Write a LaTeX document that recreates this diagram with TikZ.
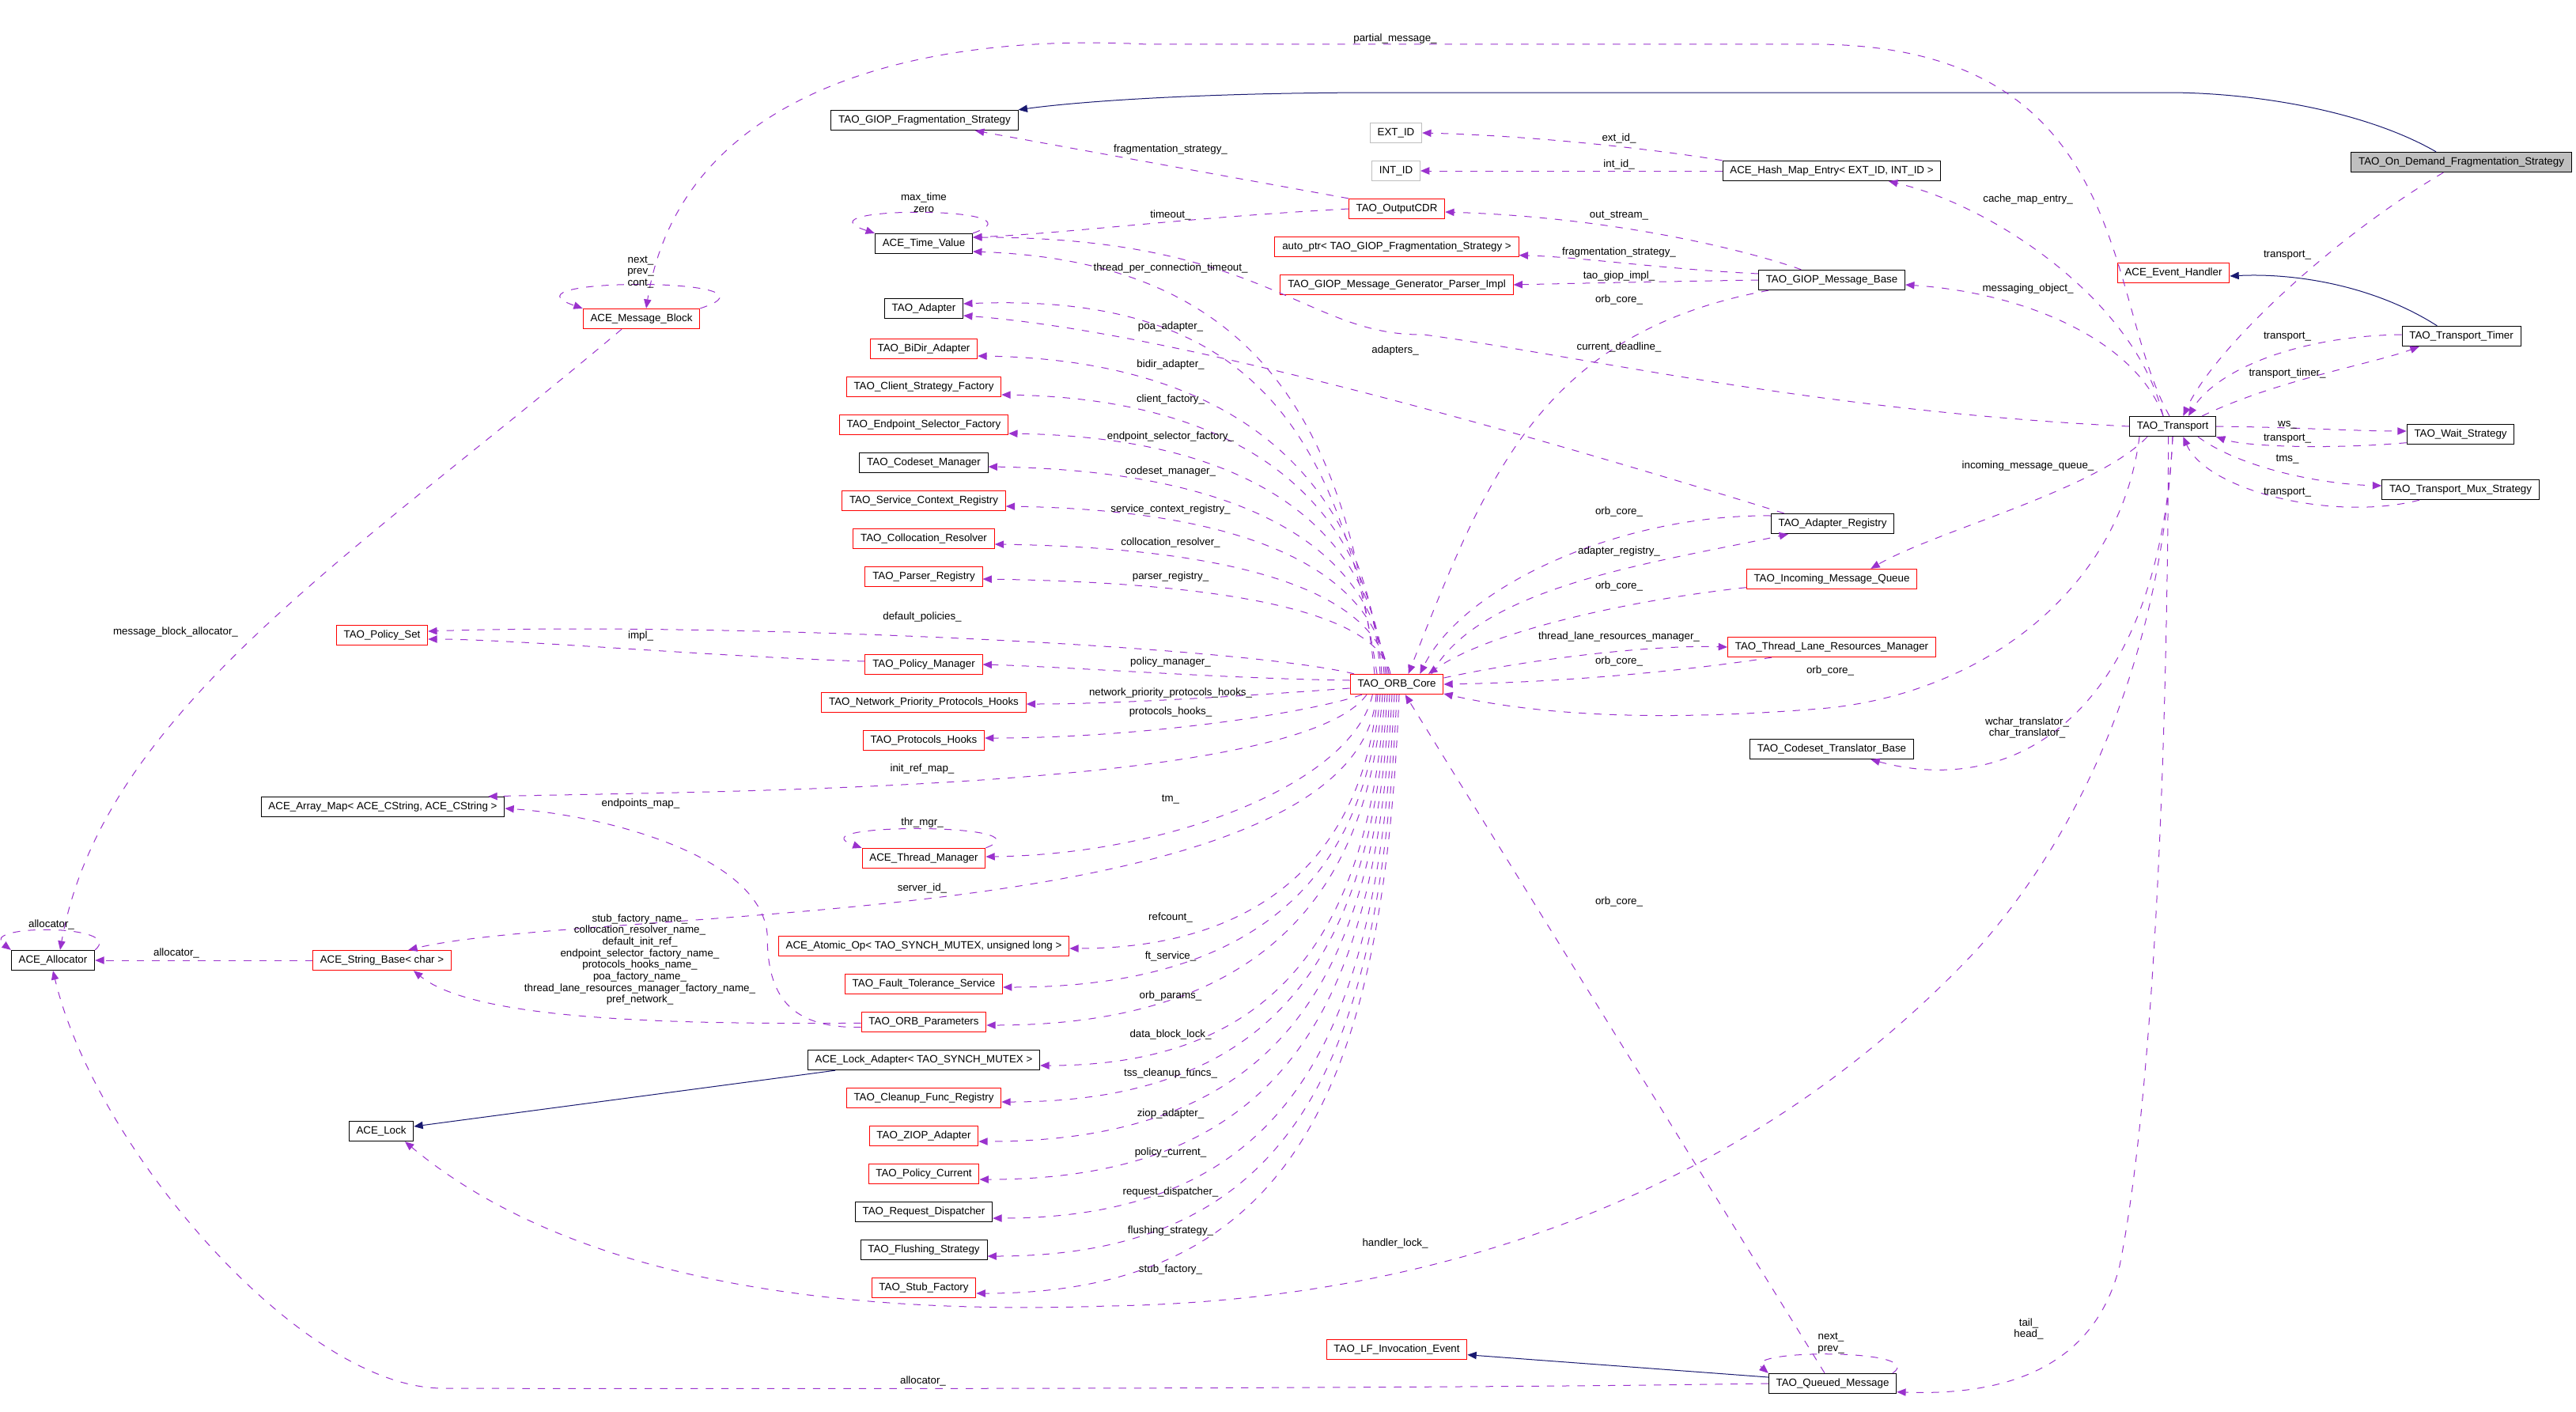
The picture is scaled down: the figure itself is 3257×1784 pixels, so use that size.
\documentclass[tikz,border=0pt]{standalone}
\usepackage{fontspec}
\setmainfont{Liberation Sans}
\usepackage{tikz}
\definecolor{dxpurple}{RGB}{154,50,205}
\definecolor{dxnavy}{RGB}{25,25,112}
\definecolor{dxgray}{RGB}{191,191,191}
\usetikzlibrary{arrows.meta}

\begin{document}
\begin{tikzpicture}[x=0.75pt, y=-0.75pt,
			cls/.style={draw=black, fill=white, line width=0.75pt, inner xsep=7pt, inner ysep=0pt,
				minimum height=19pt, text height=7.5pt, text depth=2.2pt},
			redcls/.style={cls, draw=red},
			ghost/.style={cls, draw=dxgray},
			root/.style={cls, fill=dxgray},
			lbl/.style={inner sep=0pt, align=center, font=\fontsize{10pt}{11pt}\selectfont},
			use/.style={->, dxpurple, line width=0.75pt, dash pattern=on 7pt off 7.5pt},
			isa/.style={->, dxnavy, line width=0.75pt},
			>={Triangle[length=8.5pt,width=7pt]}, %Pfeilspitzen
			font=\fontsize{10pt}{12pt}\selectfont]
			\useasboundingbox (0,0) rectangle (3257,1784);
			% Klassen
			\node[root] (ondemand) at (3112,205) {TAO\_On\_Demand\_Fragmentation\_Strategy};
			\node[cls] (giopfrag) at (1169,152) {TAO\_GIOP\_Fragmentation\_Strategy};
			\node[ghost] (extid) at (1765,168) {EXT\_ID};
			\node[ghost] (intid) at (1765,216) {INT\_ID};
			\node[cls] (hashmap) at (2316,216) {ACE\_Hash\_Map\_Entry< EXT\_ID, INT\_ID >};
			\node[redcls] (outcdr) at (1766,264) {TAO\_OutputCDR};
			\node[redcls] (autoptr) at (1766,312) {auto\_ptr< TAO\_GIOP\_Fragmentation\_Strategy >};
			\node[redcls] (genparser) at (1766,360) {TAO\_GIOP\_Message\_Generator\_Parser\_Impl};
			\node[cls] (msgbase) at (2316,354) {TAO\_GIOP\_Message\_Base};
			\node[redcls] (evhandler) at (2748,345) {ACE\_Event\_Handler};
			\node[cls] (timer) at (3112,425) {TAO\_Transport\_Timer};
			\node[cls] (transport) at (2747,539) {TAO\_Transport};
			\node[cls] (waitstrat) at (3111,549) {TAO\_Wait\_Strategy};
			\node[cls] (muxstrat) at (3111,619) {TAO\_Transport\_Mux\_Strategy};
			\node[redcls] (msgblock) at (811,403) {ACE\_Message\_Block};
			\node[redcls] (policyset) at (483,803) {TAO\_Policy\_Set};
			\node[cls] (arraymap) at (484,1020) {ACE\_Array\_Map< ACE\_CString, ACE\_CString >};
			\node[cls] (allocator) at (67,1214) {ACE\_Allocator};
			\node[redcls] (stringbase) at (483,1214) {ACE\_String\_Base< char >};
			\node[cls] (acelock) at (482,1430) {ACE\_Lock};
			\node[redcls] (orbcore) at (1766,865) {TAO\_ORB\_Core};
			\node[cls] (adapterreg) at (2317,662) {TAO\_Adapter\_Registry};
			\node[redcls] (incoming) at (2316,732) {TAO\_Incoming\_Message\_Queue};
			\node[redcls] (threadlane) at (2316,818) {TAO\_Thread\_Lane\_Resources\_Manager};
			\node[cls] (translator) at (2316,947) {TAO\_Codeset\_Translator\_Base};
			\node[redcls] (lfevent) at (1766,1706) {TAO\_LF\_Invocation\_Event};
			\node[cls] (queued) at (2317,1749) {TAO\_Queued\_Message};
			% Spalte links vom ORB_Core
			\foreach \n/\y/\c/\t in {timeval/308/black/ACE\_Time\_Value, adapter/390/black/TAO\_Adapter,
				bidir/441/red/TAO\_BiDir\_Adapter, clientfac/489/red/TAO\_Client\_Strategy\_Factory,
				endpointfac/537/red/TAO\_Endpoint\_Selector\_Factory, codesetmgr/585/black/TAO\_Codeset\_Manager,
				svcctx/633/red/TAO\_Service\_Context\_Registry, colloc/681/red/TAO\_Collocation\_Resolver,
				parserreg/729/red/TAO\_Parser\_Registry, policymgr/840/red/TAO\_Policy\_Manager,
				netprio/888/red/TAO\_Network\_Priority\_Protocols\_Hooks, protohooks/936/red/TAO\_Protocols\_Hooks,
				threadmgr/1085/red/ACE\_Thread\_Manager, atomicop/1196/red/{ACE\_Atomic\_Op< TAO\_SYNCH\_MUTEX, unsigned long >},
				ftservice/1244/red/TAO\_Fault\_Tolerance\_Service, orbparams/1292/red/TAO\_ORB\_Parameters,
				lockadapter/1340/black/ACE\_Lock\_Adapter< TAO\_SYNCH\_MUTEX >, cleanup/1388/red/TAO\_Cleanup\_Func\_Registry,
				ziop/1436/red/TAO\_ZIOP\_Adapter, policycur/1484/red/TAO\_Policy\_Current,
				reqdisp/1532/black/TAO\_Request\_Dispatcher, flushing/1580/black/TAO\_Flushing\_Strategy,
				stubfac/1628/red/TAO\_Stub\_Factory}
				\node[cls, draw=\c] (\n) at (1168,\y) {\t};
			% Vererbung
			\draw[isa] ([xshift=-24pt]ondemand.north) .. controls (2990,140) and (2850,117) .. (2740,117) -- (1750,117) .. controls (1500,117) and (1350,130) .. (giopfrag.north east);
			\draw[isa] ([xshift=-23pt]timer.north) .. controls (3000,360) and (2900,345) .. ([yshift=-3pt]evhandler.east);
			\draw[isa] ([xshift=-84pt]lockadapter.south) -- ([yshift=4.5pt]acelock.east);
			\draw[isa] ([yshift=6pt]queued.west) -- ([yshift=-5pt]lfevent.east);
			% Message block, allocator
			\draw[use] ([xshift=-3pt]transport.north) .. controls (2660,380) and (2700,60) .. (2300,56) -- (1450,56) .. controls (1150,40) and (860,120) .. ([xshift=4.5pt]msgblock.north);
			\draw[use] (msgblock.north east) .. controls (1010,350) and (620,350) .. (msgblock.north west);
			\draw[use] ([xshift=-18.75pt]msgblock.south) .. controls (450,700) and (130,900) .. ([xshift=6.75pt]allocator.north);
			\draw[use] (allocator.north east) .. controls (160,1168) and (-30,1168) .. (allocator.north west);
			\draw[use] (stringbase.west) -- (allocator.east);
			\draw[use] (queued.west) .. controls (1800,1756) and (900,1756) .. (560,1755) .. controls (380,1755) and (120,1450) .. (allocator.south);
			% Time value
			\draw[use] (timeval.north east) .. controls (1330,260) and (1000,260) .. (timeval.north west);
			\draw[use] (outcdr.west) .. controls (1500,275) and (1350,295) .. ([yshift=6pt]timeval.east);
			\draw[use] (transport.west) .. controls (2300,520) and (2000,450) .. (1800,423) .. controls (1650,425) and (1600,300) .. ([yshift=6pt]timeval.east);
			\draw[use] ([xshift=-21pt]orbcore.north) .. controls (1700,500) and (1560,330) .. ([yshift=-7.5pt]timeval.east);
			% GIOP
			\draw[use] (outcdr.north west) -- ([xshift=48pt]giopfrag.south);
			\draw[use] (hashmap.north west) .. controls (2100,190) and (1950,172) .. (extid.east);
			\draw[use] (hashmap.west) -- (intid.east);
			\draw[use] ([xshift=-9pt]transport.north) .. controls (2700,380) and (2520,260) .. ([xshift=54pt]hashmap.south);
			\draw[use] ([xshift=-29pt]msgbase.north) .. controls (2220,320) and (2050,275) .. ([yshift=-3pt]outcdr.east);
			\draw[use] ([yshift=6pt]msgbase.west) .. controls (2100,340) and (2000,325) .. ([yshift=-8pt]autoptr.east);
			\draw[use] (msgbase.west) .. controls (2100,356) and (2000,358) .. (genparser.east);
			\draw[use] ([xshift=-60pt]msgbase.south) .. controls (1950,420) and (1880,600) .. ([xshift=11pt]orbcore.north);
			\draw[use] ([xshift=-9pt]transport.north) .. controls (2700,430) and (2560,370) .. ([yshift=-4.5pt]msgbase.east);
			% Adapter, Registry, ORB_Core rechts
			\draw[use] ([xshift=-46pt]adapterreg.north) .. controls (2000,570) and (1500,420) .. ([yshift=-6.75pt]adapter.east);
			\draw[use] ([yshift=7.5pt]adapterreg.west) .. controls (2050,650) and (1850,740) .. ([xshift=22pt]orbcore.north);
			\draw[use] ([xshift=33pt]orbcore.north) .. controls (1870,740) and (2100,710) .. ([xshift=-42pt]adapterreg.south);
			\draw[use] ([yshift=-8pt]incoming.west) .. controls (2050,760) and (1880,800) .. ([xshift=30pt]orbcore.north);
			\draw[use] ([yshift=6pt]orbcore.east) .. controls (1950,830) and (2100,815) .. (threadlane.west);
			\draw[use] ([xshift=-57pt]threadlane.south) .. controls (2150,845) and (2000,862) .. (orbcore.east);
			\draw[use] ([xshift=-31.5pt]transport.south) .. controls (2680,750) and (2500,880) .. (2300,896) .. controls (2100,912) and (1950,905) .. ([yshift=-9pt]orbcore.east);
			\draw[use] ([xshift=-7.5pt]queued.north) -- ([xshift=8pt]orbcore.south);
			% Transport
			\draw[use] ([xshift=-17pt]ondemand.south) .. controls (2950,300) and (2800,440) .. ([xshift=10pt]transport.north);
			\draw[use] ([yshift=1.5pt]timer.west) .. controls (2900,425) and (2800,470) .. ([xshift=15pt]transport.north);
			\draw[use] ([xshift=28pt]transport.north) .. controls (2880,480) and (3000,460) .. ([xshift=-40pt]timer.south);
			\draw[use] (transport.east) .. controls (2900,540) and (2980,545) .. ([yshift=3pt]waitstrat.west);
			\draw[use] ([yshift=-8pt]waitstrat.west) .. controls (2950,568) and (2840,565) .. (transport.south east);
			\draw[use] ([xshift=24pt]transport.south) .. controls (2830,590) and (2930,612) .. ([yshift=3.75pt]muxstrat.west);
			\draw[use] ([xshift=-39pt]muxstrat.south) .. controls (2950,660) and (2790,620) .. ([xshift=10pt]transport.south);
			\draw[use] ([xshift=-24pt]transport.south) .. controls (2650,620) and (2450,670) .. ([xshift=37pt]incoming.north);
			\draw[use] (transport.south) .. controls (2730,900) and (2550,1010) .. ([xshift=37pt]translator.south);
			\draw[use] ([xshift=-4pt]transport.south) .. controls (2740,1000) and (2720,1400) .. (2680,1600) .. controls (2650,1720) and (2550,1765) .. ([yshift=-8pt]queued.east);
			\draw[use] ([xshift=-4pt]queued.north east) .. controls (2440,1705) and (2200,1705) .. (queued.north west);
			\draw[use] (transport.south) .. controls (2735,800) and (2650,1030) .. (2500,1200) .. controls (2200,1520) and (1800,1645) .. (1400,1651) .. controls (1000,1665) and (700,1600) .. ([xshift=22.5pt]acelock.south);
			% ORB_Core nach oben links
			\draw[use] ([xshift=-18.75pt]orbcore.north) .. controls (1690,520) and (1560,370) .. ([yshift=4.5pt]adapter.east);
			\draw[use] ([xshift=-15.75pt]orbcore.north) .. controls (1729,611) and (1569,455) .. ([yshift=-6.75pt]bidir.east);
			\draw[use] ([xshift=-14.25pt]orbcore.north) .. controls (1732,641) and (1581,504) .. ([yshift=-7.5pt]clientfac.east);
			\draw[use] ([xshift=-12pt]orbcore.north) .. controls (1735,670) and (1586,553) .. ([yshift=-8.25pt]endpointfac.east);
			\draw[use] ([xshift=-10.5pt]orbcore.north) .. controls (1737,695) and (1578,595) .. ([yshift=-3.75pt]codesetmgr.east);
			\draw[use] ([xshift=-9pt]orbcore.north) .. controls (1739,725) and (1587,645) .. ([yshift=-5.25pt]svcctx.east);
			\draw[use] ([xshift=-7.5pt]orbcore.north) .. controls (1741,754) and (1584,693) .. ([yshift=-5.25pt]colloc.east);
			\draw[use] ([xshift=-6pt]orbcore.north) .. controls (1743,780) and (1580,737) .. ([yshift=-2.25pt]parserreg.east);
			\draw[use] ([xshift=-40.5pt]orbcore.north) .. controls (1560,815) and (900,786) .. ([yshift=3.75pt]policyset.east);
			\draw[use] ([yshift=3pt]policymgr.west) .. controls (900,830) and (650,808) .. ([yshift=-3.75pt]policyset.east);
			\draw[use] ([yshift=3.75pt]orbcore.west) .. controls (1550,858) and (1350,843) .. (policymgr.east);
			\draw[use] ([yshift=-3.75pt]orbcore.west) .. controls (1600,878) and (1420,890) .. ([yshift=-1.5pt]netprio.east);
			% ORB_Core nach unten links
			\draw[use] ([xshift=-33pt]orbcore.south) .. controls (1660,900) and (1450,933) .. ([yshift=2.25pt]protohooks.east);
			\draw[use] ([xshift=-28.5pt]orbcore.south) .. controls (1640,1000) and (900,1000) .. ([xshift=100pt]arraymap.north);
			\draw[use] ([xshift=-23pt]orbcore.south) .. controls (1710,990) and (1480,1080) .. ([yshift=1.5pt]threadmgr.east);
			\draw[use] (threadmgr.north east) .. controls (1330,1040) and (1000,1040) .. (threadmgr.north west);
			\draw[use] ([xshift=-19.5pt]orbcore.south) .. controls (1720,1180) and (750,1145) .. ([xshift=25pt]stringbase.north);
			\draw[use] ([xshift=-18pt]orbcore.south) .. controls (1722,1086) and (1589,1199) .. ([yshift=-2.25pt]atomicop.east);
			\draw[use] ([xshift=-15.75pt]orbcore.south) .. controls (1725,1118) and (1579,1248) .. ([yshift=-3pt]ftservice.east);
			\draw[use] ([xshift=-13.5pt]orbcore.south) .. controls (1728,1149) and (1575,1296) .. ([yshift=-3pt]orbparams.east);
			\draw[use] ([xshift=-11.25pt]orbcore.south) .. controls (1731,1182) and (1612,1347) .. ([yshift=-5.25pt]lockadapter.east);
			\draw[use] ([xshift=-9pt]orbcore.south) .. controls (1734,1212) and (1609,1393) .. ([yshift=-3.75pt]cleanup.east);
			\draw[use] ([xshift=-6.75pt]orbcore.south) .. controls (1737,1245) and (1613,1443) .. ([yshift=-5.25pt]ziop.east);
			\draw[use] ([xshift=-4.5pt]orbcore.south) .. controls (1740,1276) and (1620,1491) .. ([yshift=-5.25pt]policycur.east);
			\draw[use] ([xshift=-2.25pt]orbcore.south) .. controls (1743,1308) and (1632,1540) .. ([yshift=-6pt]reqdisp.east);
			\draw[use] (orbcore.south) .. controls (1746,1339) and (1638,1588) .. ([yshift=-6pt]flushing.east);
			\draw[use] ([xshift=2.25pt]orbcore.south) .. controls (1749,1370) and (1637,1635) .. ([yshift=-5.25pt]stubfac.east);
			% ORB_Parameters
			\draw[use] ([yshift=-5pt]orbparams.west) .. controls (990,1300) and (970,1250) .. (970,1180) .. controls (960,1080) and (760,1030) .. ([yshift=-1.5pt]arraymap.east);
			\draw[use] ([yshift=-1pt]orbparams.west) .. controls (850,1295) and (600,1290) .. ([xshift=30pt]stringbase.south);
			% Beschriftung
			\foreach \n/\x/\y/\t in {1/1764/49/partial\_message\_, 2/1480/189/fragmentation\_strategy\_,
				3/2047/175/ext\_id\_, 4/2047/208/int\_id\_, 5/1168/256/{max\_time\\zero}, 6/1480/272/timeout\_,
				7/2047/273/out\_stream\_, 8/2047/319/fragmentation\_strategy\_, 9/1480/339/thread\_per\_connection\_timeout\_,
				10/2047/349/tao\_giop\_impl\_, 11/2047/379/orb\_core\_, 12/1480/413/poa\_adapter\_, 13/1764/443/adapters\_,
				14/2047/439/current\_deadline\_, 15/1480/461/bidir\_adapter\_, 16/1480/505/client\_factory\_,
				17/1480/552/endpoint\_selector\_factory\_, 18/1480/596/codeset\_manager\_, 19/1480/644/service\_context\_registry\_,
				20/1480/686/collocation\_resolver\_, 21/1480/729/parser\_registry\_, 22/1166/780/default\_policies\_,
				23/1480/837/policy\_manager\_, 24/1480/876/network\_priority\_protocols\_hooks\_, 25/1480/900/protocols\_hooks\_,
				26/1166/972/init\_ref\_map\_, 27/1480/1011/tm\_, 28/1166/1040/thr\_mgr\_, 29/1166/1123/server\_id\_,
				30/1480/1160/refcount\_, 31/1480/1209/ft\_service\_, 32/1480/1259/orb\_params\_, 33/1480/1308/data\_block\_lock\_,
				34/1480/1357/tss\_cleanup\_funcs\_, 35/1480/1408/ziop\_adapter\_, 36/1480/1457/policy\_current\_,
				37/1480/1507/request\_dispatcher\_, 38/1480/1556/flushing\_strategy\_, 39/1480/1605/stub\_factory\_,
				40/1764/1572/handler\_lock\_, 41/1167/1746/allocator\_, 42/2047/647/orb\_core\_, 43/2047/697/adapter\_registry\_,
				44/2047/741/orb\_core\_, 45/2047/805/thread\_lane\_resources\_manager\_, 46/2047/836/orb\_core\_,
				47/2314/848/orb\_core\_, 48/2047/1140/orb\_core\_, 49/2563/920/{wchar\_translator\_\\char\_translator\_},
				50/2565/1680/{tail\_\\head\_}, 51/2315/1698/{next\_\\prev\_}, 52/810/344/{next\_\\prev\_\\cont\_},
				53/222/799/message\_block\_allocator\_, 54/810/804/impl\_, 55/810/1016/endpoints\_map\_,
				56/65/1169/allocator\_, 57/223/1205/allocator\_, 58/2564/252/cache\_map\_entry\_, 59/2892/323/transport\_,
				60/2564/365/messaging\_object\_, 61/2892/426/transport\_, 62/2892/472/transport\_timer\_, 63/2892/537/ws\_,
				64/2892/555/transport\_, 65/2892/581/tms\_, 66/2564/589/incoming\_message\_queue\_, 67/2892/623/transport\_,
				68/809/1213/{stub\_factory\_name\_\\collocation\_resolver\_name\_\\default\_init\_ref\_\\endpoint\_selector\_factory\_name\_\\protocols\_hooks\_name\_\\poa\_factory\_name\_\\thread\_lane\_resources\_manager\_factory\_name\_\\pref\_network\_}}
				\node[lbl] (l\n) at (\x,\y) {\t};
		\end{tikzpicture}
\end{document}
